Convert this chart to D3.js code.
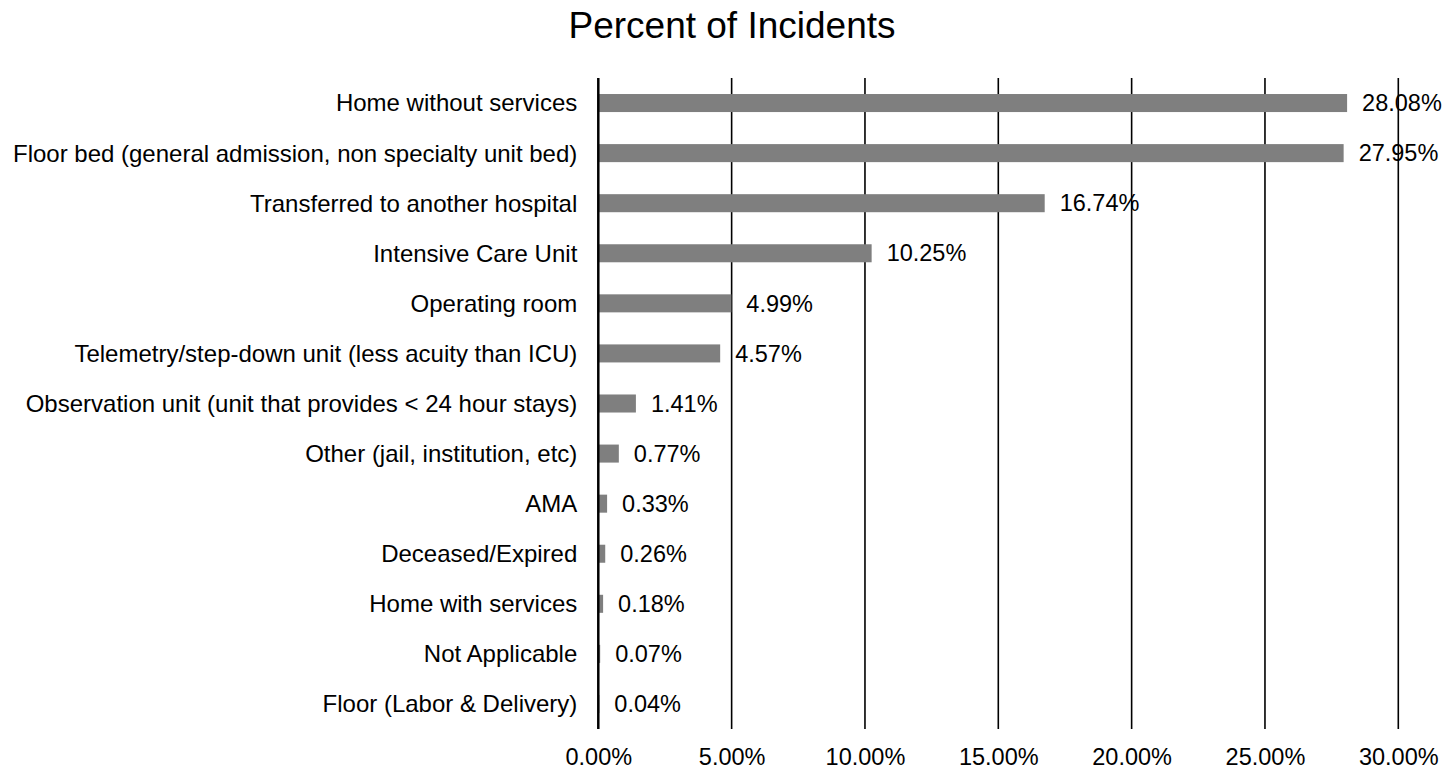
<!DOCTYPE html>
<html>
<head>
<meta charset="utf-8">
<script src="https://cdn.jsdelivr.net/npm/d3@7"></script>
<style>
  html, body { margin: 0; padding: 0; background: #fff; }
  svg text { font-family: "Liberation Sans", Arial, sans-serif; fill: #000; }
</style>
</head>
<body>
<svg id="chart" width="1448" height="769"></svg>
<script>
// categories, top to bottom
const categories = [
	'Home without services',
	'Floor bed (general admission, non specialty unit bed)',
	'Transferred to another hospital',
	'Intensive Care Unit',
	'Operating room',
	'Telemetry/step-down unit (less acuity than ICU)',
	'Observation unit (unit that provides < 24 hour stays)',
	'Other (jail, institution, etc)',
	'AMA',
	'Deceased/Expired',
	'Home with services',
	'Not Applicable',
	'Floor (Labor & Delivery)'
];
const percents = [28.08, 27.95, 16.74, 10.25, 4.99, 4.57, 1.41, 0.77, 0.33, 0.26, 0.18, 0.07, 0.04];
const tickValues = [0, 5, 10, 15, 20, 25, 30];
const title = 'Percent of Incidents';

const svg = d3.select('#chart');
const plotLeft = 598.3, plotRight = 1398.3, plotTop = 78, plotBottom = 729;

const x = d3.scaleLinear().domain([0, 30]).range([plotLeft, plotRight]);
const y = d3.scaleBand().domain(categories).range([plotTop, plotBottom])
	.paddingInner(0.64).paddingOuter(0.32);

// title
svg.append('text')
	.attr('x', 732).attr('y', 38)
	.attr('text-anchor', 'middle')
	.style('font-size', '37px')
	.text(title);

// vertical gridlines
svg.append('g').selectAll('line')
	.data(tickValues.slice(1))
	.join('line')
	.attr('x1', d => x(d)).attr('x2', d => x(d))
	.attr('y1', plotTop).attr('y2', plotBottom)
	.attr('stroke', '#000').attr('stroke-width', 1.6);

// bars
svg.append('g').selectAll('rect')
	.data(percents)
	.join('rect')
	.attr('x', x(0))
	.attr('y', (d, i) => y(categories[i]))
	.attr('width', d => x(d) - x(0))
	.attr('height', y.bandwidth())
	.attr('fill', '#7f7f7f');

// zero axis line
svg.append('line')
	.attr('x1', x(0)).attr('x2', x(0))
	.attr('y1', plotTop).attr('y2', plotBottom)
	.attr('stroke', '#000').attr('stroke-width', 2.5);

// category labels
svg.append('g').selectAll('text')
	.data(categories)
	.join('text')
	.attr('x', plotLeft - 21)
	.attr('y', d => y(d) + y.bandwidth() / 2)
	.attr('dy', '0.35em')
	.attr('text-anchor', 'end')
	.style('font-size', '24px')
	.text(d => d);

// value labels
svg.append('g').selectAll('text')
	.data(percents)
	.join('text')
	.attr('x', d => x(d) + 15)
	.attr('y', (d, i) => y(categories[i]) + y.bandwidth() / 2)
	.attr('dy', '0.35em')
	.style('font-size', '23.5px')
	.text(d => d.toFixed(2) + '%');

// x tick labels
const xAxis = d3.axisBottom(x).tickValues(tickValues)
	.tickSize(0).tickPadding(0)
	.tickFormat(d => d.toFixed(2) + '%');
const ax = svg.append('g').attr('transform', 'translate(0,748)').call(xAxis);
ax.select('.domain').remove();
ax.selectAll('text')
	.style('font-family', '"Liberation Sans", Arial, sans-serif')
	.style('font-size', '23.5px')
	.attr('fill', '#000');
</script>
</body>
</html>
